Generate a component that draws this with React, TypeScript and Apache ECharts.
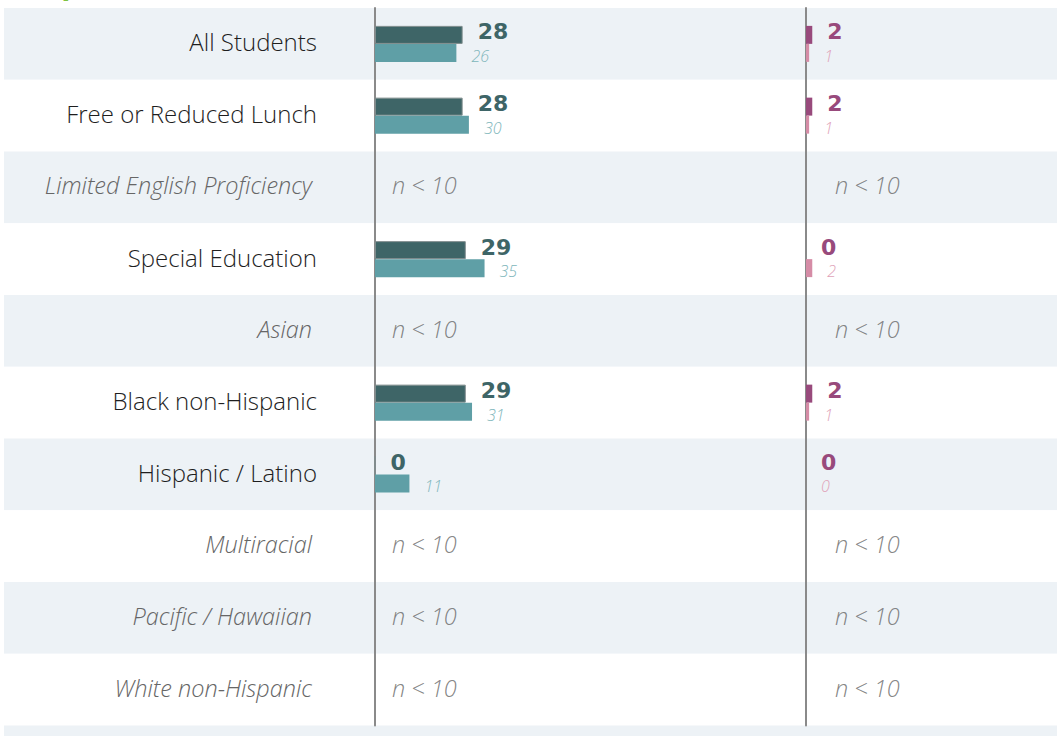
import React, { useEffect, useRef } from "react";
import * as echarts from "echarts";

const categories = [
  "All Students",
  "Free or Reduced Lunch",
  "Limited English Proficiency",
  "Special Education",
  "Asian",
  "Black non-Hispanic",
  "Hispanic / Latino",
  "Multiracial",
  "Pacific / Hawaiian",
  "White non-Hispanic",
];
// "-" = suppressed (n < 10)
const leftCurrent = [28, 28, "-", 29, "-", 29, 0, "-", "-", "-"];
const leftPrior = [26, 30, "-", 35, "-", 31, 11, "-", "-", "-"];
const rightCurrent = [2, 2, "-", 0, "-", 2, 0, "-", "-", "-"];
const rightPrior = [1, 1, "-", 2, "-", 1, 0, "-", "-", "-"];
const suppressed = [false, false, true, false, true, false, false, true, true, true];
const suppressedText = "n < 10";
const titleText = "Suspension Rates (%)";

const ROW = 71.75;

export default function App() {
  const ref = useRef<HTMLDivElement>(null);
  useEffect(() => {
    if (!ref.current) return;
    const chart = echarts.init(ref.current, null, { renderer: "svg" });
    const bandRows = [...categories, ""];
    const nData = categories
      .map((c, i) => (suppressed[i] ? [0, i] : null))
      .filter((d) => d !== null);

    const darkLabel = (color: string) => ({
      show: true,
      position: "right",
      distance: 15,
      offset: [0, -3],
      formatter: "{c}",
      fontFamily: "DejaVu Sans",
      fontWeight: "bold",
      fontSize: 22,
      color,
    });
    const lightLabel = (color: string) => ({
      show: true,
      position: "right",
      distance: 15,
      offset: [0, 3],
      formatter: "{c}",
      fontFamily: "Open Sans",
      fontStyle: "italic",
      fontWeight: 300,
      fontSize: 16,
      color,
    });
    const nLabel = (distance: number) => ({
      show: true,
      position: "right",
      distance,
      offset: [0, -2],
      formatter: () => suppressedText,
      fontFamily: "Open Sans",
      fontStyle: "italic",
      fontWeight: 300,
      fontSize: 23.5,
      color: "#666666",
    });

    const valueAxis = (gridIndex: number, max: number) => ({
      type: "value",
      gridIndex,
      min: 0,
      max,
      show: false,
    });
    const catAxisBase = {
      type: "category",
      data: categories,
      inverse: true,
      axisTick: { show: false },
      axisLine: { show: true, lineStyle: { color: "#8a8a8a", width: 2 } },
      splitLine: { show: false },
    };

    chart.setOption({
      animation: false,
      graphic: [
        {
          type: "text",
          left: 10,
          top: -33,
          style: {
            text: titleText,
            font: "bold 30px 'Open Sans'",
            fill: "#7dc242",
          },
        },
      ],
      grid: [
        { left: 4, right: 4, top: 8, height: ROW * 11 },
        { left: 375, top: 8, width: 313, height: ROW * 10 },
        { left: 806, top: 8, width: 156.5, height: ROW * 10 },
      ],
      xAxis: [valueAxis(0, 1), valueAxis(1, 100), valueAxis(2, 50)],
      yAxis: [
        {
          type: "category",
          gridIndex: 0,
          data: bandRows,
          inverse: true,
          axisLine: { show: false },
          axisTick: { show: false },
          axisLabel: { show: false },
          splitArea: { show: true, areaStyle: { color: ["#edf2f6", "#ffffff"] } },
        },
        {
          ...catAxisBase,
          gridIndex: 1,
          axisLabel: {
            margin: 58,
            formatter: (v: string, i: number) =>
              suppressed[i] ? `{i|${v}}` : `{n|${v}}`,
            rich: {
              n: {
                fontFamily: "Open Sans",
                fontWeight: 300,
                fontSize: 24,
                color: "#1e1e1e",
                padding: [0, 0, 4, 0],
              },
              i: {
                fontFamily: "Open Sans",
                fontWeight: 300,
                fontStyle: "italic",
                fontSize: 23.5,
                color: "#666666",
                padding: [0, 5, 4, 0],
              },
            },
          },
        },
        { ...catAxisBase, gridIndex: 2, axisLabel: { show: false } },
      ],
      series: [
        {
          type: "bar",
          xAxisIndex: 1,
          yAxisIndex: 1,
          data: leftCurrent,
          barWidth: 18,
          barGap: "0%",
          itemStyle: { color: "#3e6567", borderColor: "#7f8c8d", borderWidth: 1 },
          label: darkLabel("#3e6567"),
        },
        {
          type: "bar",
          xAxisIndex: 1,
          yAxisIndex: 1,
          data: leftPrior,
          barWidth: 18,
          barGap: "0%",
          itemStyle: { color: "#5f9fa6" },
          label: lightLabel("#80b6bb"),
        },
        {
          type: "scatter",
          xAxisIndex: 1,
          yAxisIndex: 1,
          data: nData,
          symbolSize: 0,
          label: nLabel(17),
        },
        {
          type: "bar",
          xAxisIndex: 2,
          yAxisIndex: 2,
          data: rightCurrent,
          barWidth: 18,
          barGap: "0%",
          itemStyle: { color: "#984a7c" },
          label: darkLabel("#984a7c"),
        },
        {
          type: "bar",
          xAxisIndex: 2,
          yAxisIndex: 2,
          data: rightPrior,
          barWidth: 18,
          barGap: "0%",
          itemStyle: { color: "#d58ca6" },
          label: lightLabel("#e0a2b8"),
        },
        {
          type: "scatter",
          xAxisIndex: 2,
          yAxisIndex: 2,
          data: nData,
          symbolSize: 0,
          label: nLabel(29),
        },
      ],
    });
    return () => chart.dispose();
  }, []);

  return (
    <div
      style={{
        position: "fixed",
        left: 0,
        top: 0,
        width: 1061,
        height: 736,
        overflow: "hidden",
        background: "#ffffff",
      }}
    >
      <div ref={ref} style={{ width: 1061, height: 800 }} />
    </div>
  );
}
